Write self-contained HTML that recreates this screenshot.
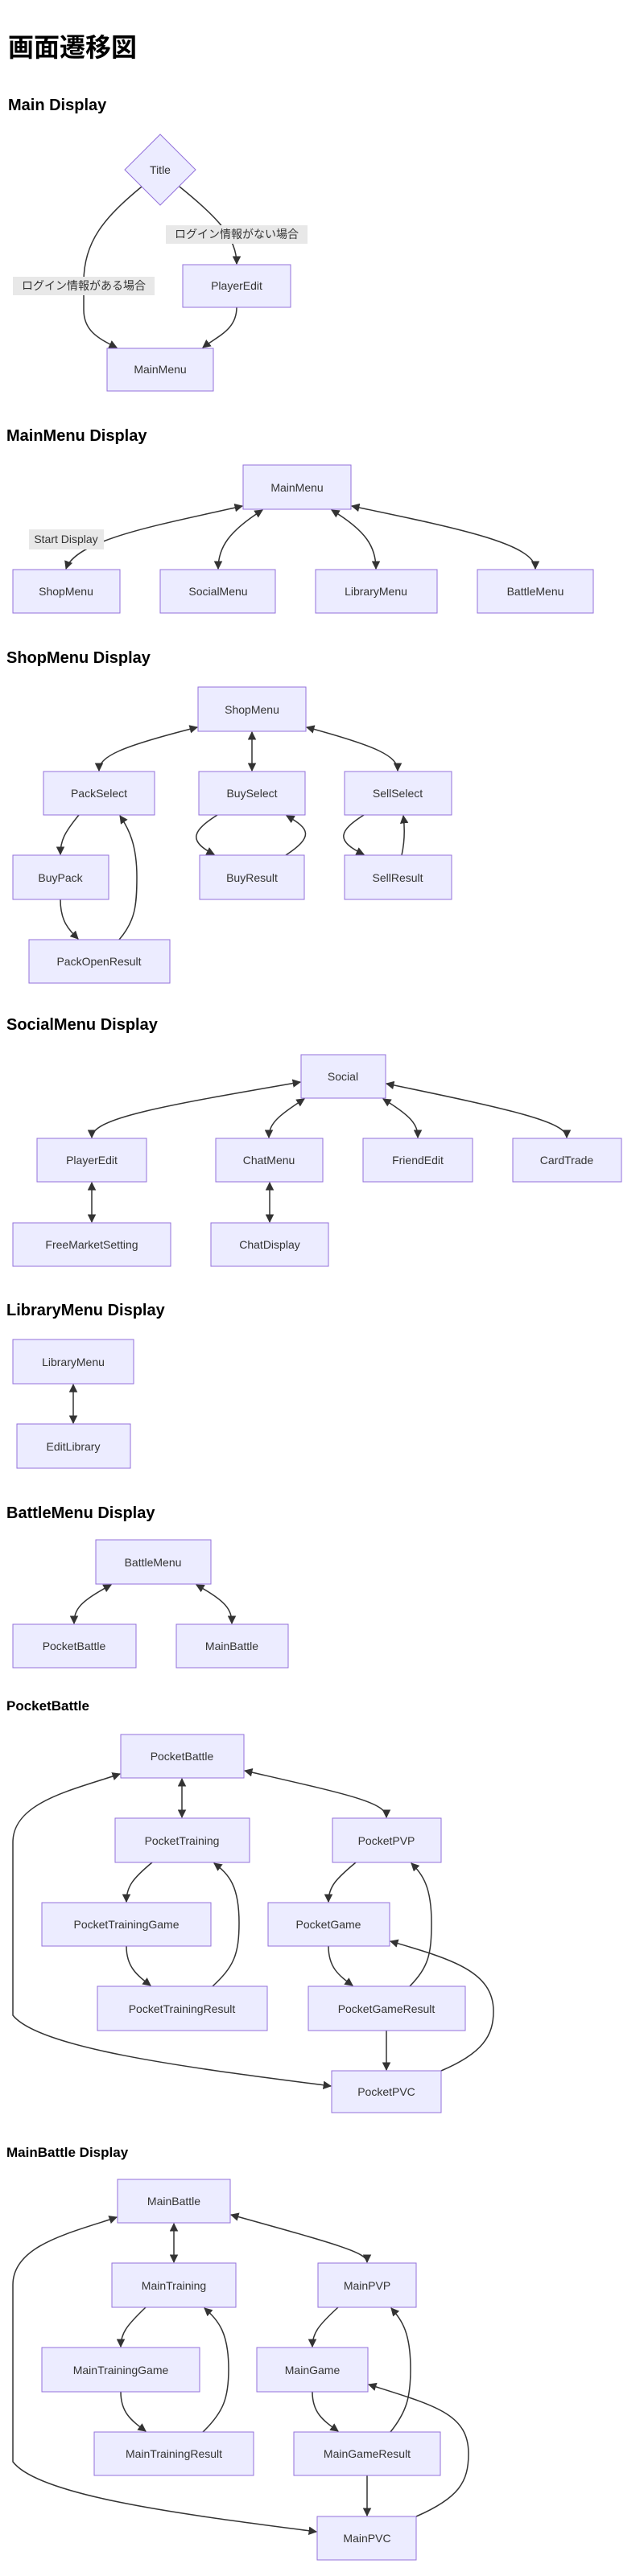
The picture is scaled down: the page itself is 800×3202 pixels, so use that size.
<!DOCTYPE html>
<html><head><meta charset="utf-8"><style>
html,body{margin:0;padding:0;background:#fff;width:800px;height:3202px;overflow:hidden}
svg{display:block}
.h{font-family:"Liberation Sans","Noto Sans CJK JP",sans-serif;font-weight:bold;fill:#000}
.b{fill:#ECECFF;stroke:#9370DB;stroke-width:1}
.t{font-family:"Liberation Sans","Noto Sans CJK JP",sans-serif;font-size:14px;fill:#333;text-anchor:middle;dominant-baseline:central}
.e{fill:none;stroke:#333;stroke-width:1.5}
.lb{fill:#e8e8e8}
</style></head><body>
<svg width="800" height="3202" viewBox="0 0 800 3202" xmlns="http://www.w3.org/2000/svg">
<defs>
<marker id="a" viewBox="0 0 10 10" refX="9" refY="5" markerWidth="7" markerHeight="7" orient="auto-start-reverse"><path d="M0,0 L10,5 L0,10 z" fill="#333"/></marker>
</defs>
<text class="h" x="10" y="70" font-size="32">画面遷移図</text>
<text class="h" x="10" y="137" font-size="20">Main Display</text>
<text class="h" x="8" y="548" font-size="20">MainMenu Display</text>
<text class="h" x="8" y="824" font-size="20">ShopMenu Display</text>
<text class="h" x="8" y="1280" font-size="20">SocialMenu Display</text>
<text class="h" x="8" y="1635" font-size="20">LibraryMenu Display</text>
<text class="h" x="8" y="1887" font-size="20">BattleMenu Display</text>
<text class="h" x="8" y="2126" font-size="17">PocketBattle</text>
<text class="h" x="8" y="2681" font-size="17">MainBattle Display</text>

<!-- Main Display -->
<path class="e" d="M176,232 C130,270 104,300 104,350 L104,385 C104,410 120,420 145,432" marker-end="url(#a)"/>
<path class="e" d="M223,232 C270,270 294,295 294,328" marker-end="url(#a)"/>
<path class="e" d="M294,382 C294,410 270,418 252,432" marker-end="url(#a)"/>
<polygon class="b" points="199,167 243,211 199,255 155,211"/>
<text class="t" x="199" y="211">Title</text>
<rect class="b" x="227" y="329" width="134" height="53"/><text class="t" x="294" y="355">PlayerEdit</text>
<rect class="b" x="133" y="433" width="132" height="53"/><text class="t" x="199" y="459">MainMenu</text>
<rect class="lb" x="206" y="280" width="176" height="23"/><text class="t" x="294" y="291">ログイン情報がない場合</text>
<rect class="lb" x="16" y="344" width="176" height="23"/><text class="t" x="104" y="355">ログイン情報がある場合</text>

<!-- MainMenu -->
<path class="e" d="M301,629 C200,652 95,670 82,707" marker-start="url(#a)" marker-end="url(#a)"/>
<path class="e" d="M326,634 C285,660 271,680 271,707" marker-start="url(#a)" marker-end="url(#a)"/>
<path class="e" d="M412,634 C455,660 467,680 467,707" marker-start="url(#a)" marker-end="url(#a)"/>
<path class="e" d="M437,629 C560,655 665,675 665,707" marker-start="url(#a)" marker-end="url(#a)"/>
<rect class="b" x="302" y="578" width="134" height="55"/><text class="t" x="369" y="606">MainMenu</text>
<rect class="lb" x="36" y="658" width="93" height="25"/><text class="t" x="82" y="670">Start Display</text>
<rect class="b" x="16" y="708" width="133" height="54"/><text class="t" x="82" y="735">ShopMenu</text>
<rect class="b" x="199" y="708" width="143" height="54"/><text class="t" x="271" y="735">SocialMenu</text>
<rect class="b" x="392" y="708" width="151" height="54"/><text class="t" x="467" y="735">LibraryMenu</text>
<rect class="b" x="593" y="708" width="144" height="54"/><text class="t" x="665" y="735">BattleMenu</text>

<!-- ShopMenu -->
<path class="e" d="M245,904 C150,928 123,940 123,958" marker-start="url(#a)" marker-end="url(#a)"/>
<path class="e" d="M313,910 L313,958" marker-start="url(#a)" marker-end="url(#a)"/>
<path class="e" d="M381,904 C470,928 494,940 494,958" marker-start="url(#a)" marker-end="url(#a)"/>
<path class="e" d="M98,1013 C80,1035 75,1045 75,1062" marker-end="url(#a)"/>
<path class="e" d="M75,1118 C75,1145 85,1155 97,1167" marker-end="url(#a)"/>
<path class="e" d="M148,1168 C168,1145 170,1125 170,1090 C170,1050 160,1030 149,1014" marker-end="url(#a)"/>
<path class="e" d="M270,1013 C240,1032 232,1045 266,1062" marker-end="url(#a)"/>
<path class="e" d="M355,1063 C390,1040 385,1030 356,1014" marker-end="url(#a)"/>
<path class="e" d="M452,1013 C422,1032 415,1045 452,1062" marker-end="url(#a)"/>
<path class="e" d="M499,1063 C503,1045 503,1030 501,1014" marker-end="url(#a)"/>
<rect class="b" x="246" y="854" width="134" height="55"/><text class="t" x="313" y="882">ShopMenu</text>
<rect class="b" x="54" y="959" width="138" height="54"/><text class="t" x="123" y="986">PackSelect</text>
<rect class="b" x="247" y="959" width="132" height="54"/><text class="t" x="313" y="986">BuySelect</text>
<rect class="b" x="428" y="959" width="133" height="54"/><text class="t" x="494" y="986">SellSelect</text>
<rect class="b" x="16" y="1063" width="119" height="55"/><text class="t" x="75" y="1091">BuyPack</text>
<rect class="b" x="248" y="1063" width="130" height="55"/><text class="t" x="313" y="1091">BuyResult</text>
<rect class="b" x="428" y="1063" width="133" height="55"/><text class="t" x="494" y="1091">SellResult</text>
<rect class="b" x="36" y="1168" width="175" height="54"/><text class="t" x="123" y="1195">PackOpenResult</text>

<!-- Social -->
<path class="e" d="M373,1345 C200,1375 114,1390 114,1414" marker-start="url(#a)" marker-end="url(#a)"/>
<path class="e" d="M378,1366 C345,1387 334,1397 334,1414" marker-start="url(#a)" marker-end="url(#a)"/>
<path class="e" d="M476,1366 C510,1387 519,1397 519,1414" marker-start="url(#a)" marker-end="url(#a)"/>
<path class="e" d="M480,1347 C640,1380 704,1395 704,1414" marker-start="url(#a)" marker-end="url(#a)"/>
<path class="e" d="M114,1470 L114,1519" marker-start="url(#a)" marker-end="url(#a)"/>
<path class="e" d="M335,1470 L335,1519" marker-start="url(#a)" marker-end="url(#a)"/>
<rect class="b" x="374" y="1311" width="105" height="54"/><text class="t" x="426" y="1338">Social</text>
<rect class="b" x="46" y="1415" width="136" height="54"/><text class="t" x="114" y="1442">PlayerEdit</text>
<rect class="b" x="268" y="1415" width="133" height="54"/><text class="t" x="334" y="1442">ChatMenu</text>
<rect class="b" x="451" y="1415" width="136" height="54"/><text class="t" x="519" y="1442">FriendEdit</text>
<rect class="b" x="637" y="1415" width="135" height="54"/><text class="t" x="704" y="1442">CardTrade</text>
<rect class="b" x="16" y="1520" width="196" height="54"/><text class="t" x="114" y="1547">FreeMarketSetting</text>
<rect class="b" x="262" y="1520" width="146" height="54"/><text class="t" x="335" y="1547">ChatDisplay</text>

<!-- Library -->
<path class="e" d="M91,1721 L91,1769" marker-start="url(#a)" marker-end="url(#a)"/>
<rect class="b" x="16" y="1665" width="150" height="55"/><text class="t" x="91" y="1693">LibraryMenu</text>
<rect class="b" x="21" y="1770" width="141" height="55"/><text class="t" x="91" y="1798">EditLibrary</text>

<!-- BattleMenu -->
<path class="e" d="M138,1970 C100,1990 92,2000 92,2018" marker-start="url(#a)" marker-end="url(#a)"/>
<path class="e" d="M244,1970 C280,1990 288,2000 288,2018" marker-start="url(#a)" marker-end="url(#a)"/>
<rect class="b" x="119" y="1914" width="143" height="55"/><text class="t" x="190" y="1942">BattleMenu</text>
<rect class="b" x="16" y="2019" width="153" height="54"/><text class="t" x="92" y="2046">PocketBattle</text>
<rect class="b" x="219" y="2019" width="139" height="54"/><text class="t" x="288" y="2046">MainBattle</text>

<!-- PocketBattle -->
<path class="e" d="M226,2211 L226,2259" marker-start="url(#a)" marker-end="url(#a)"/>
<path class="e" d="M304,2201 C430,2230 480,2240 480,2259" marker-start="url(#a)" marker-end="url(#a)"/>
<path class="e" d="M189,2315 C165,2335 157,2345 157,2364" marker-end="url(#a)"/>
<path class="e" d="M157,2419 C157,2445 170,2455 187,2468" marker-end="url(#a)"/>
<path class="e" d="M264,2469 C290,2445 297,2430 297,2390 C297,2345 285,2330 266,2316" marker-end="url(#a)"/>
<path class="e" d="M442,2315 C418,2335 408,2345 408,2364" marker-end="url(#a)"/>
<path class="e" d="M408,2419 C408,2445 420,2455 438,2468" marker-end="url(#a)"/>
<path class="e" d="M509,2469 C532,2445 536,2430 536,2390 C536,2345 525,2330 511,2316" marker-end="url(#a)"/>
<path class="e" d="M480,2524 L480,2573" marker-end="url(#a)"/>
<path class="e" d="M548,2574 C600,2552 613,2530 613,2500 C613,2450 560,2435 485,2413" marker-end="url(#a)"/>
<path class="e" d="M411,2593 C250,2572 50,2548 16,2505 L16,2290 C16,2240 90,2225 149,2205" marker-start="url(#a)" marker-end="url(#a)"/>
<rect class="b" x="150" y="2156" width="153" height="54"/><text class="t" x="226" y="2183">PocketBattle</text>
<rect class="b" x="143" y="2260" width="167" height="55"/><text class="t" x="226" y="2288">PocketTraining</text>
<rect class="b" x="413" y="2260" width="135" height="55"/><text class="t" x="480" y="2288">PocketPVP</text>
<rect class="b" x="52" y="2365" width="210" height="54"/><text class="t" x="157" y="2392">PocketTrainingGame</text>
<rect class="b" x="333" y="2365" width="151" height="54"/><text class="t" x="408" y="2392">PocketGame</text>
<rect class="b" x="121" y="2469" width="211" height="55"/><text class="t" x="226" y="2497">PocketTrainingResult</text>
<rect class="b" x="383" y="2469" width="195" height="55"/><text class="t" x="480" y="2497">PocketGameResult</text>
<rect class="b" x="412" y="2574" width="136" height="52"/><text class="t" x="480" y="2600">PocketPVC</text>

<!-- MainBattle -->
<path class="e" d="M216,2764 L216,2812" marker-start="url(#a)" marker-end="url(#a)"/>
<path class="e" d="M287,2753 C420,2790 456,2800 456,2812" marker-start="url(#a)" marker-end="url(#a)"/>
<path class="e" d="M181,2868 C158,2890 150,2900 150,2917" marker-end="url(#a)"/>
<path class="e" d="M150,2973 C150,2998 162,3008 181,3022" marker-end="url(#a)"/>
<path class="e" d="M252,3023 C278,2998 284,2980 284,2945 C284,2900 272,2885 254,2869" marker-end="url(#a)"/>
<path class="e" d="M420,2868 C396,2890 388,2900 388,2917" marker-end="url(#a)"/>
<path class="e" d="M388,2973 C388,2998 400,3008 420,3022" marker-end="url(#a)"/>
<path class="e" d="M485,3023 C505,2998 510,2980 510,2945 C510,2900 500,2885 486,2869" marker-end="url(#a)"/>
<path class="e" d="M456,3077 L456,3127" marker-end="url(#a)"/>
<path class="e" d="M517,3128 C570,3105 582,3085 582,3050 C582,3000 540,2990 458,2964" marker-end="url(#a)"/>
<path class="e" d="M393,3147 C250,3128 50,3105 16,3060 L16,2840 C16,2790 90,2775 145,2756" marker-start="url(#a)" marker-end="url(#a)"/>
<rect class="b" x="146" y="2709" width="140" height="54"/><text class="t" x="216" y="2736">MainBattle</text>
<rect class="b" x="139" y="2813" width="154" height="55"/><text class="t" x="216" y="2841">MainTraining</text>
<rect class="b" x="395" y="2813" width="122" height="55"/><text class="t" x="456" y="2841">MainPVP</text>
<rect class="b" x="52" y="2918" width="196" height="55"/><text class="t" x="150" y="2946">MainTrainingGame</text>
<rect class="b" x="319" y="2918" width="138" height="55"/><text class="t" x="388" y="2946">MainGame</text>
<rect class="b" x="117" y="3023" width="198" height="54"/><text class="t" x="216" y="3050">MainTrainingResult</text>
<rect class="b" x="365" y="3023" width="182" height="54"/><text class="t" x="456" y="3050">MainGameResult</text>
<rect class="b" x="394" y="3128" width="123" height="54"/><text class="t" x="456" y="3155">MainPVC</text>
</svg>
</body></html>
